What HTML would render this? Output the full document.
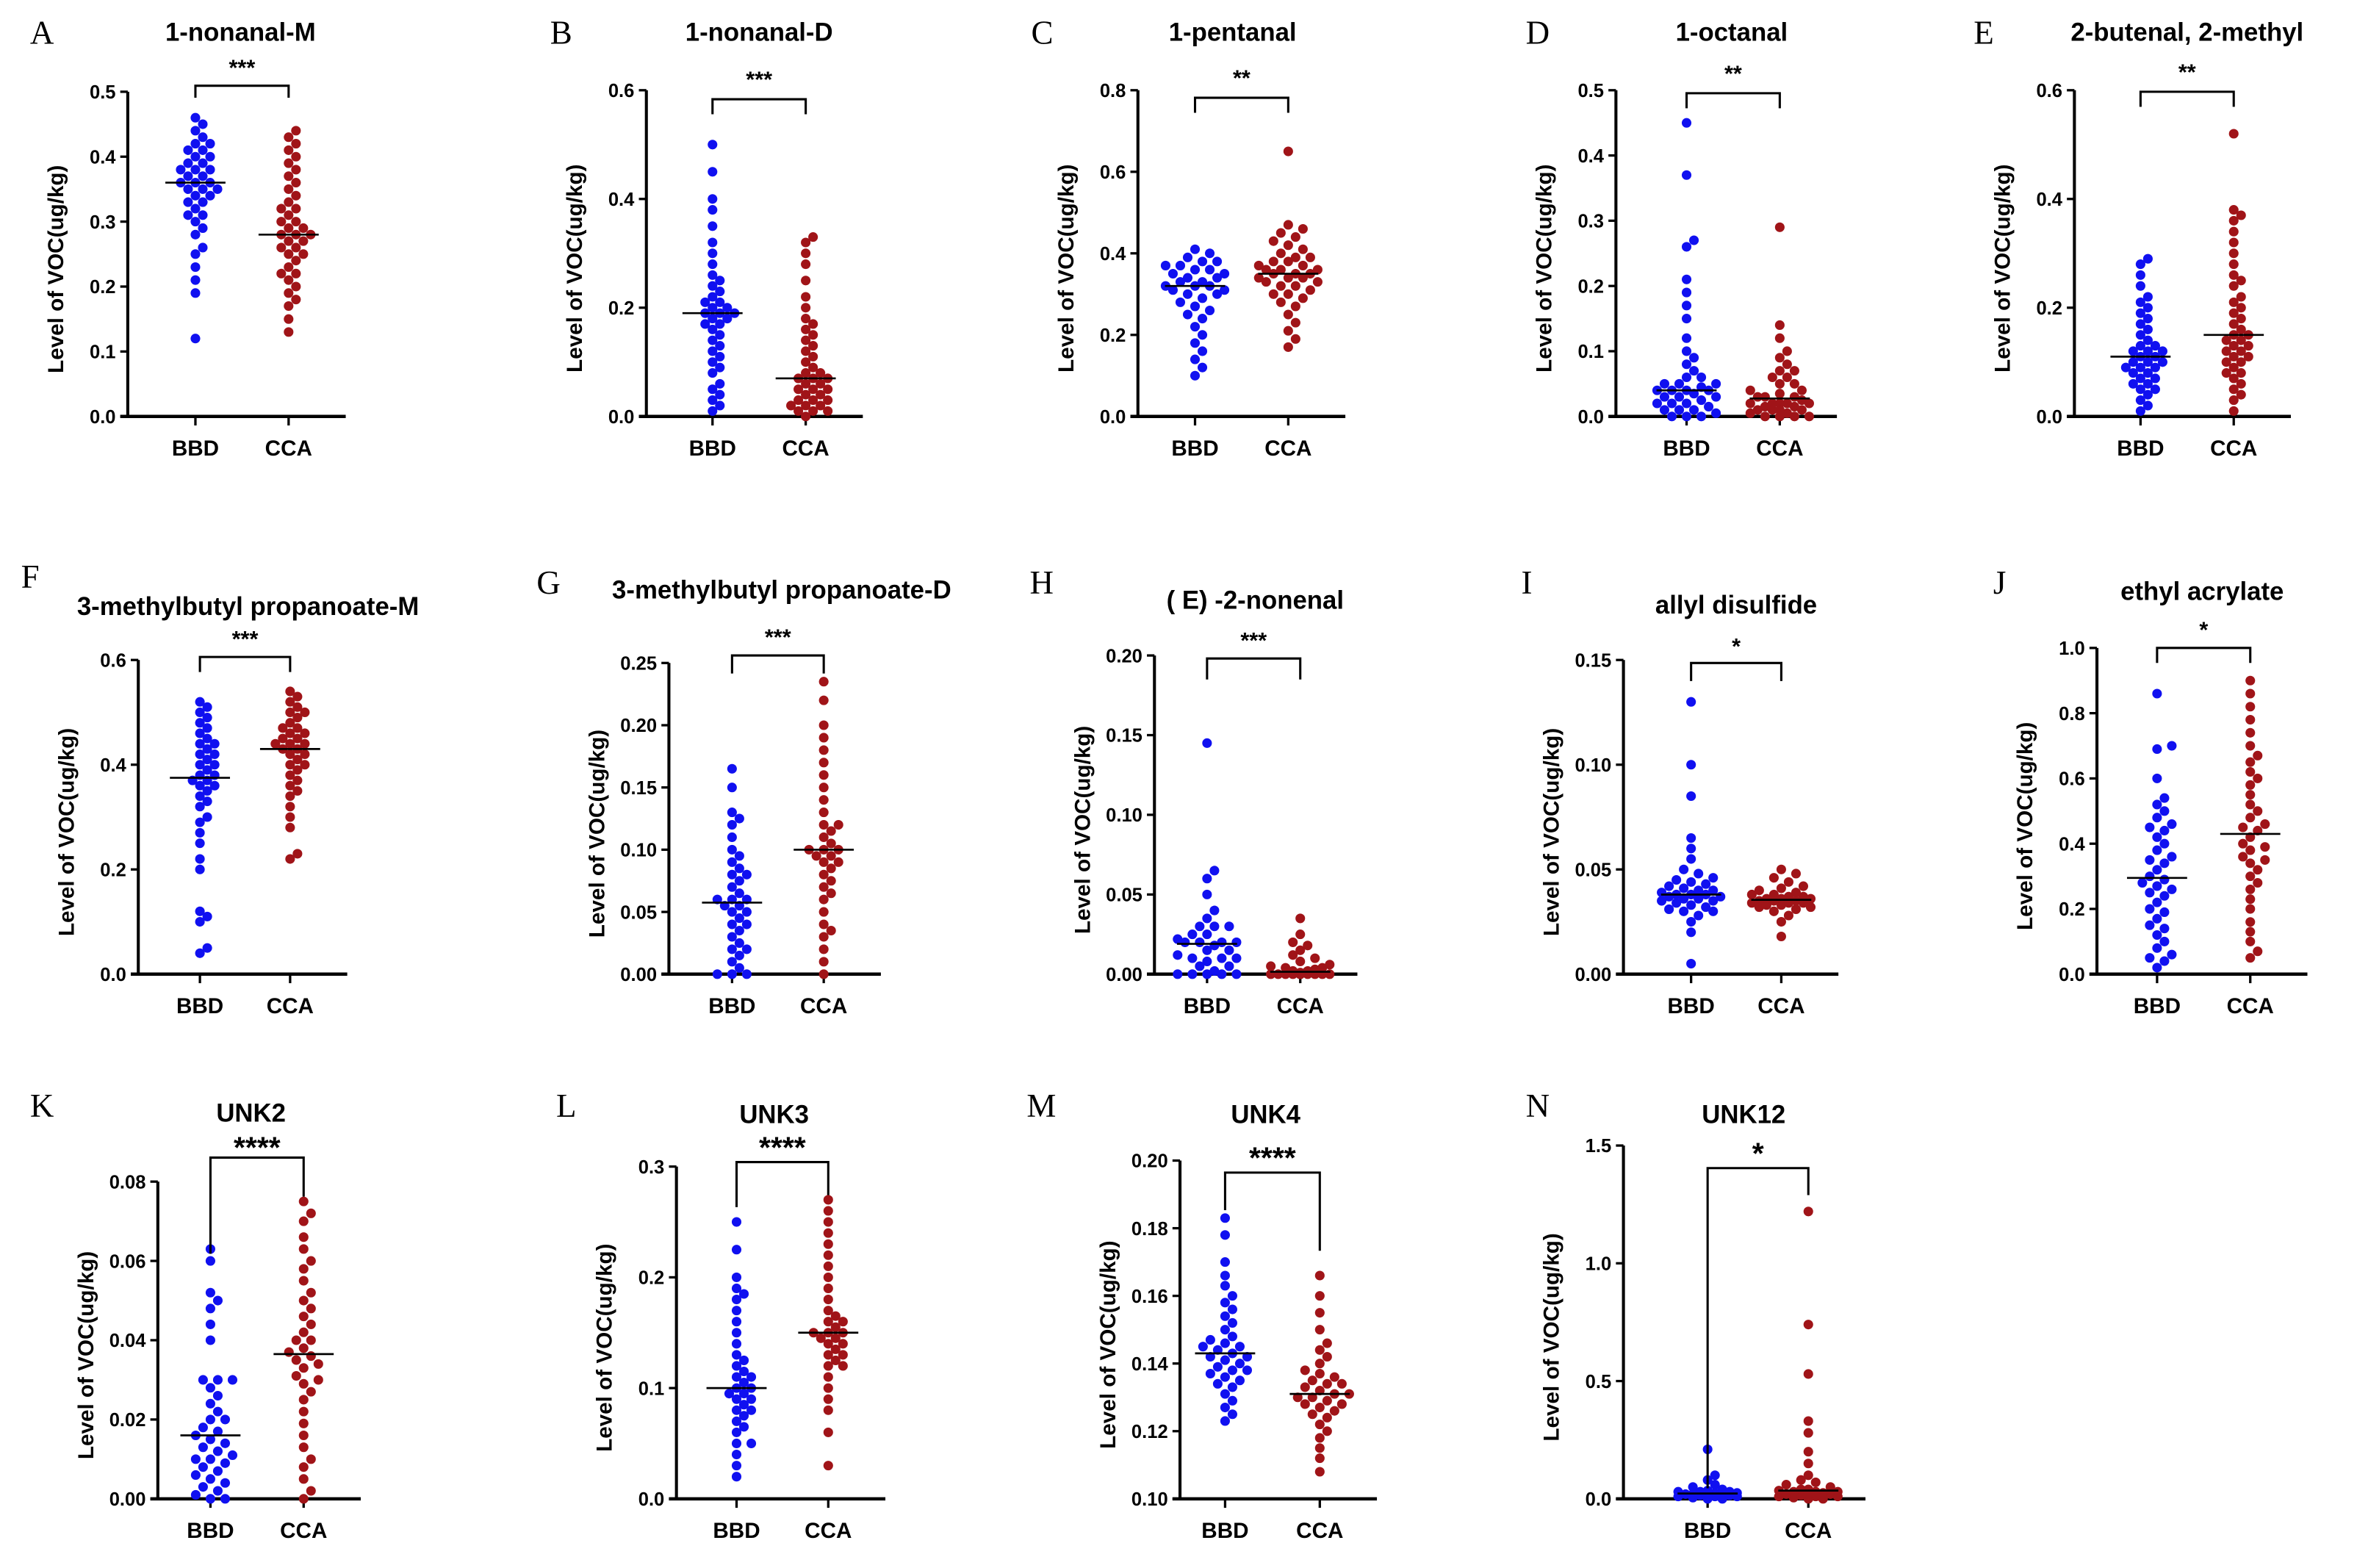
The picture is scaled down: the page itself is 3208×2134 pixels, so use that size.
<!DOCTYPE html>
<html><head><meta charset="utf-8"><style>
html,body{margin:0;padding:0;background:#fff}
svg{display:block}
text{font-family:"Liberation Sans",sans-serif}
</style></head><body>
<svg id="fig" xmlns="http://www.w3.org/2000/svg" width="3208" height="2134" viewBox="0 0 1568 1043"></svg>
<script>
const groups = ["BBD","CCA"];
const A_bbd=[0.12,0.19,0.21,0.23,0.25,0.26,0.28,0.29,0.30,0.31,0.31,0.32,0.33,0.33,0.34,0.34,0.35,0.35,0.35,0.36,0.36,0.36,0.37,0.37,0.38,0.38,0.38,0.39,0.39,0.40,0.40,0.41,0.41,0.42,0.42,0.43,0.44,0.45,0.46];
const A_cca=[0.13,0.15,0.17,0.18,0.19,0.20,0.21,0.22,0.23,0.24,0.25,0.26,0.26,0.27,0.27,0.28,0.28,0.28,0.29,0.29,0.30,0.30,0.31,0.32,0.33,0.34,0.35,0.36,0.37,0.38,0.39,0.40,0.41,0.42,0.43,0.44,0.22,0.25,0.32];
const B_bbd=[0.01,0.02,0.03,0.04,0.05,0.06,0.08,0.09,0.10,0.11,0.12,0.13,0.14,0.15,0.16,0.17,0.17,0.18,0.18,0.19,0.19,0.19,0.20,0.20,0.21,0.21,0.22,0.23,0.24,0.25,0.26,0.28,0.30,0.32,0.35,0.38,0.40,0.45,0.50];
const B_cca=[0.0,0.01,0.01,0.02,0.02,0.03,0.03,0.04,0.04,0.05,0.05,0.06,0.06,0.07,0.07,0.07,0.08,0.08,0.09,0.10,0.11,0.12,0.13,0.14,0.15,0.16,0.17,0.18,0.20,0.22,0.25,0.28,0.30,0.32,0.33,0.01,0.02,0.03,0.05];
const C_bbd=[0.10,0.12,0.14,0.16,0.18,0.20,0.22,0.24,0.25,0.26,0.27,0.28,0.29,0.30,0.30,0.31,0.31,0.32,0.32,0.32,0.33,0.33,0.34,0.34,0.35,0.35,0.36,0.36,0.37,0.37,0.38,0.38,0.39,0.40,0.41];
const C_cca=[0.17,0.19,0.21,0.23,0.25,0.27,0.28,0.29,0.30,0.31,0.32,0.32,0.33,0.33,0.34,0.34,0.34,0.35,0.35,0.35,0.36,0.36,0.37,0.37,0.38,0.38,0.39,0.40,0.41,0.42,0.43,0.44,0.45,0.46,0.47,0.65,0.30,0.36,0.39];
const D_bbd=[0.0,0.0,0.005,0.01,0.01,0.015,0.02,0.02,0.025,0.03,0.03,0.035,0.04,0.04,0.04,0.045,0.05,0.05,0.06,0.07,0.08,0.09,0.10,0.12,0.15,0.17,0.19,0.21,0.26,0.27,0.37,0.45,0.0,0.01,0.02,0.03,0.04,0.05,0.06];
const D_cca=[0.0,0.0,0.0,0.005,0.005,0.01,0.01,0.01,0.015,0.015,0.02,0.02,0.02,0.02,0.025,0.03,0.03,0.035,0.04,0.04,0.05,0.05,0.06,0.07,0.08,0.09,0.10,0.12,0.14,0.29,0.0,0.01,0.02,0.03,0.06,0.07];
const E_bbd=[0.01,0.02,0.03,0.04,0.05,0.05,0.06,0.07,0.07,0.08,0.08,0.09,0.09,0.10,0.10,0.10,0.11,0.11,0.12,0.12,0.13,0.13,0.14,0.15,0.16,0.17,0.18,0.19,0.20,0.21,0.22,0.24,0.26,0.28,0.29,0.06,0.09,0.12];
const E_cca=[0.01,0.03,0.04,0.05,0.06,0.07,0.08,0.09,0.10,0.10,0.11,0.12,0.12,0.13,0.13,0.14,0.14,0.15,0.16,0.17,0.18,0.19,0.20,0.21,0.22,0.24,0.26,0.28,0.30,0.32,0.34,0.36,0.37,0.38,0.52,0.08,0.11,0.15,0.25];
const F_bbd=[0.04,0.05,0.10,0.11,0.12,0.20,0.22,0.25,0.27,0.29,0.30,0.32,0.33,0.34,0.35,0.36,0.37,0.37,0.38,0.38,0.39,0.40,0.41,0.42,0.42,0.43,0.44,0.45,0.46,0.47,0.48,0.49,0.50,0.51,0.52,0.40,0.44,0.36];
const F_cca=[0.22,0.23,0.28,0.30,0.32,0.34,0.36,0.37,0.38,0.39,0.40,0.41,0.42,0.42,0.43,0.43,0.44,0.44,0.45,0.45,0.46,0.46,0.47,0.48,0.49,0.50,0.51,0.52,0.53,0.54,0.40,0.47,0.50,0.35,0.44];
const G_bbd=[0.0,0.0,0.005,0.01,0.015,0.02,0.025,0.03,0.035,0.04,0.045,0.05,0.05,0.055,0.055,0.06,0.06,0.065,0.07,0.075,0.08,0.085,0.09,0.095,0.10,0.11,0.12,0.125,0.13,0.15,0.165,0.0,0.02,0.04,0.06,0.08];
const G_cca=[0.0,0.01,0.02,0.03,0.04,0.05,0.06,0.065,0.07,0.075,0.08,0.085,0.09,0.095,0.095,0.10,0.10,0.105,0.11,0.115,0.12,0.13,0.14,0.15,0.16,0.17,0.18,0.19,0.20,0.22,0.235,0.09,0.10,0.12,0.035];
const H_bbd=[0.0,0.0,0.0,0.0,0.002,0.005,0.005,0.008,0.01,0.01,0.012,0.015,0.015,0.018,0.02,0.02,0.02,0.022,0.025,0.025,0.03,0.03,0.035,0.04,0.05,0.06,0.065,0.145,0.0,0.01,0.02,0.03];
const H_cca=[0,0,0,0,0,0,0,0,0,0,0,0,0.001,0.002,0.003,0.004,0.005,0.006,0.008,0.01,0.012,0.015,0.018,0.02,0.025,0.035,0,0,0.002,0.004];
const I_bbd=[0.005,0.02,0.025,0.028,0.03,0.031,0.032,0.033,0.034,0.035,0.035,0.036,0.036,0.037,0.037,0.038,0.038,0.039,0.04,0.04,0.041,0.042,0.043,0.044,0.045,0.046,0.048,0.05,0.055,0.06,0.065,0.085,0.1,0.13,0.03,0.038];
const I_cca=[0.018,0.025,0.028,0.03,0.031,0.032,0.033,0.033,0.034,0.034,0.035,0.035,0.035,0.036,0.036,0.037,0.037,0.038,0.038,0.039,0.04,0.041,0.042,0.044,0.046,0.048,0.05,0.034,0.036,0.032];
const J_bbd=[0.02,0.04,0.06,0.08,0.10,0.12,0.14,0.15,0.17,0.19,0.20,0.22,0.24,0.26,0.27,0.28,0.29,0.30,0.32,0.34,0.36,0.38,0.40,0.42,0.44,0.46,0.48,0.50,0.52,0.54,0.60,0.70,0.69,0.86,0.05,0.25,0.35,0.45];
const J_cca=[0.05,0.07,0.10,0.13,0.16,0.20,0.23,0.26,0.28,0.30,0.32,0.34,0.36,0.38,0.39,0.40,0.42,0.44,0.46,0.48,0.50,0.52,0.55,0.58,0.60,0.62,0.65,0.67,0.70,0.74,0.78,0.82,0.86,0.90,0.35,0.45];
const K_bbd=[0.0,0.0,0.001,0.002,0.003,0.004,0.005,0.006,0.007,0.008,0.009,0.01,0.011,0.012,0.013,0.014,0.015,0.016,0.017,0.018,0.02,0.022,0.024,0.026,0.028,0.03,0.03,0.03,0.04,0.044,0.048,0.05,0.052,0.06,0.063,0.01,0.02];
const K_cca=[0.0,0.002,0.005,0.008,0.01,0.013,0.016,0.019,0.022,0.025,0.027,0.029,0.031,0.033,0.034,0.035,0.036,0.037,0.038,0.04,0.042,0.044,0.046,0.048,0.05,0.052,0.055,0.058,0.06,0.063,0.066,0.07,0.072,0.075,0.03,0.04];
const L_bbd=[0.02,0.03,0.04,0.05,0.06,0.065,0.07,0.075,0.08,0.085,0.09,0.09,0.095,0.095,0.10,0.10,0.105,0.11,0.115,0.12,0.125,0.13,0.14,0.15,0.16,0.17,0.18,0.185,0.19,0.2,0.225,0.25,0.08,0.11,0.05];
const L_cca=[0.03,0.06,0.08,0.09,0.10,0.11,0.12,0.125,0.13,0.135,0.14,0.14,0.145,0.145,0.15,0.15,0.155,0.16,0.165,0.17,0.18,0.19,0.2,0.21,0.22,0.23,0.24,0.25,0.26,0.27,0.13,0.15,0.16,0.12];
const M_bbd=[0.123,0.125,0.127,0.129,0.131,0.133,0.134,0.135,0.136,0.137,0.138,0.139,0.14,0.141,0.142,0.142,0.143,0.144,0.145,0.146,0.147,0.148,0.15,0.152,0.154,0.156,0.158,0.16,0.163,0.166,0.17,0.178,0.183,0.138,0.145];
const M_cca=[0.108,0.112,0.115,0.118,0.12,0.122,0.124,0.125,0.126,0.127,0.128,0.129,0.13,0.13,0.131,0.131,0.132,0.133,0.134,0.135,0.136,0.137,0.138,0.14,0.142,0.144,0.146,0.15,0.155,0.16,0.166,0.128,0.134];
const N_bbd=[0.0,0.005,0.01,0.01,0.015,0.02,0.02,0.02,0.025,0.025,0.03,0.03,0.035,0.04,0.05,0.06,0.08,0.1,0.21,0.0,0.01,0.015,0.02,0.03];
const N_cca=[0,0.005,0.01,0.01,0.015,0.02,0.02,0.025,0.03,0.03,0.035,0.04,0.04,0.05,0.06,0.07,0.08,0.1,0.15,0.2,0.28,0.33,0.53,0.74,1.22,0.0,0.01,0.02,0.03];

const titles = ["1-nonanal-M","1-nonanal-D","1-pentanal","1-octanal","2-butenal, 2-methyl","3-methylbutyl propanoate-M","3-methylbutyl propanoate-D","( E) -2-nonenal","allyl disulfide","ethyl acrylate","UNK2","UNK3","UNK4","UNK12"];
const letters = ["A","B","C","D","E","F","G","H","I","J","K","L","M","N"];
const stars = ["***","***","**","**","**","***","***","***","*","*","****","****","****","*"];
const yMin = [0,0,0,0,0,0,0,0,0,0,0,0,0.10,0];
const yMax = [0.5,0.6,0.8,0.5,0.6,0.6,0.25,0.20,0.15,1.0,0.08,0.3,0.20,1.5];
const yStep = [0.1,0.2,0.2,0.1,0.2,0.2,0.05,0.05,0.05,0.2,0.02,0.1,0.02,0.5];
const yDec = [1,1,1,1,1,1,2,2,2,1,2,1,2,1];
const bbdData=[A_bbd,B_bbd,C_bbd,D_bbd,E_bbd,F_bbd,G_bbd,H_bbd,I_bbd,J_bbd,K_bbd,L_bbd,M_bbd,N_bbd];
const ccaData=[A_cca,B_cca,C_cca,D_cca,E_cca,F_cca,G_cca,H_cca,I_cca,J_cca,K_cca,L_cca,M_cca,N_cca];

const L = [
 {ax:85,top:61,bot:277,g1:130,g2:192,tx:160,ty:27,lx:20,ly:29,br:57,l1:8,l2:8,sy:50,fs:15},
 {ax:430,top:60,bot:277,g1:474,g2:536,tx:505,ty:27,lx:366,ly:29,br:66,l1:10,l2:10,sy:58,fs:15},
 {ax:757,top:60,bot:277,g1:795,g2:857,tx:820,ty:27,lx:686,ly:29,br:65,l1:10,l2:10,sy:57,fs:15},
 {ax:1075,top:60,bot:277,g1:1122,g2:1184,tx:1152,ty:27,lx:1015,ly:29,br:62,l1:10,l2:10,sy:54,fs:15},
 {ax:1380,top:60,bot:277,g1:1424,g2:1486,tx:1455,ty:27,lx:1313,ly:29,br:61,l1:10,l2:10,sy:53,fs:15},
 {ax:92,top:439,bot:648,g1:133,g2:193,tx:165,ty:409,lx:14,ly:391,br:437,l1:10,l2:10,sy:430,fs:15},
 {ax:445,top:441,bot:648,g1:487,g2:548,tx:520,ty:398,lx:357,ly:395,br:436,l1:12,l2:12,sy:429,fs:15},
 {ax:768,top:436,bot:648,g1:803,g2:865,tx:835,ty:405,lx:685,ly:395,br:438,l1:14,l2:14,sy:431,fs:15},
 {ax:1080,top:439,bot:648,g1:1125,g2:1185,tx:1155,ty:408,lx:1012,ly:395,br:441,l1:12,l2:12,sy:435,fs:15},
 {ax:1395,top:431,bot:648,g1:1435,g2:1497,tx:1465,ty:399,lx:1326,ly:395,br:431,l1:10,l2:10,sy:424,fs:15},
 {ax:105,top:786,bot:997,g1:140,g2:202,tx:167,ty:746,lx:20,ly:743,br:770,l1:64,l2:26,sy:770,fs:20},
 {ax:450,top:776,bot:997,g1:490,g2:551,tx:515,ty:747,lx:370,ly:743,br:773,l1:30,l2:22,sy:770,fs:20},
 {ax:785,top:772,bot:997,g1:815,g2:878,tx:842,ty:747,lx:683,ly:743,br:780,l1:25,l2:52,sy:777,fs:20},
 {ax:1080,top:762,bot:997,g1:1136,g2:1203,tx:1160,ty:747,lx:1015,ly:743,br:777,l1:213,l2:18,sy:774,fs:20}
];
const svg=document.getElementById('fig');
const NS="http://www.w3.org/2000/svg";
function mk(tag,attrs,parent){const e=document.createElementNS(NS,tag);for(const k in attrs)e.setAttribute(k,attrs[k]);(parent||svg).appendChild(e);return e;}
function swarm(vals,cx,ys,r){
  const order=vals.map((v,i)=>i).sort((a,b)=>vals[a]-vals[b]);
  const placed=[];const out=new Array(vals.length);
  const d=2*r*0.9, maxW=20, step=d*0.85;
  for(const i of order){const y=ys(vals[i]);let best=cx,bestD=-1;
    for(let k=0;k<40;k++){const off=(k===0?0:(k%2?1:-1)*Math.ceil(k/2)*step);
      if(Math.abs(off)>maxW)break;const cand=cx+off;
      let md=1e9;for(const p of placed){const dd=Math.hypot(p[0]-cand,p[1]-y);if(dd<md)md=dd;}
      if(md>=d){best=cand;bestD=1e9;break;}
      if(md>bestD){bestD=md;best=cand;}}
    placed.push([best,y]);out[i]=[best,y];}
  return out;
}
function median(a){const s=[...a].sort((x,y)=>x-y);const n=s.length;return n%2?s[(n-1)/2]:(s[n/2-1]+s[n/2])/2;}
for(let p=0;p<14;p++){
  const c=L[p];
  const g=mk('g',{});
  
  
  const ys=v=>c.bot-(v-yMin[p])/(yMax[p]-yMin[p])*(c.bot-c.top);
  const lt=mk('text',{x:c.lx,y:c.ly,'font-size':22,style:'font-family:"Liberation Serif",serif'},g);lt.textContent=letters[p];
  
  const tt=mk('text',{x:c.tx,y:c.ty,'font-size':17,'font-weight':'bold','text-anchor':'middle'},g);tt.textContent=titles[p];
  
  const xEnd=c.g2+38;
  const ya=mk('line',{x1:c.ax,y1:c.top,x2:c.ax,y2:c.bot,stroke:'#000','stroke-width':2},g);
  
  const xa=mk('line',{x1:c.ax-5,y1:c.bot,x2:xEnd,y2:c.bot,stroke:'#000','stroke-width':2.2},g);
  
  const nt=Math.round((yMax[p]-yMin[p])/yStep[p]);
  for(let t=0;t<=nt;t++){const v=yMin[p]+t*yStep[p];const y=ys(v);
    mk('line',{x1:c.ax-5,y1:y,x2:c.ax,y2:y,stroke:'#000','stroke-width':1.6},g);
    const tl=mk('text',{x:c.ax-8,y:y+4.5,'font-size':12.5,'font-weight':'bold','text-anchor':'end'},g);tl.textContent=v.toFixed(yDec[p]);
    }
  const yl=mk('text',{x:0,y:0,'font-size':14.5,'font-weight':'bold','text-anchor':'middle',transform:`translate(${c.ax-43},${(c.top+c.bot)/2+10}) rotate(-90)`},g);yl.textContent='Level of VOC(ug/kg)';
  
  const gx=[c.g1,c.g2];const data=[bbdData[p],ccaData[p]];const col=['#1010f0','#a01418'];
  for(let k=0;k<2;k++){
    mk('line',{x1:gx[k],y1:c.bot,x2:gx[k],y2:c.bot+6,stroke:'#000','stroke-width':1.6},g);
    const xl=mk('text',{x:gx[k],y:c.bot+26,'font-size':14.5,'font-weight':'bold','text-anchor':'middle'},g);xl.textContent=groups[k];
    
    const pts=swarm(data[k],gx[k],ys,3.2);
    pts.forEach(pt=>{const d=mk('circle',{cx:pt[0],cy:pt[1],r:3.2,fill:col[k]},g);
      
      });
    const m=ys(median(data[k]));
    const ml=mk('line',{x1:gx[k]-20,y1:m,x2:gx[k]+20,y2:m,stroke:'#000','stroke-width':1.3},g);
    
  }
  const br=mk('path',{d:`M${c.g1},${c.br+c.l1} V${c.br} H${c.g2} V${c.br+c.l2}`,fill:'none',stroke:'#000','stroke-width':1.5},g);
  
  const st=mk('text',{x:(c.g1+c.g2)/2,y:c.sy,'font-size':c.fs,'font-weight':'bold','text-anchor':'middle'},g);st.textContent=stars[p];
  
}
</script>
</body></html>
